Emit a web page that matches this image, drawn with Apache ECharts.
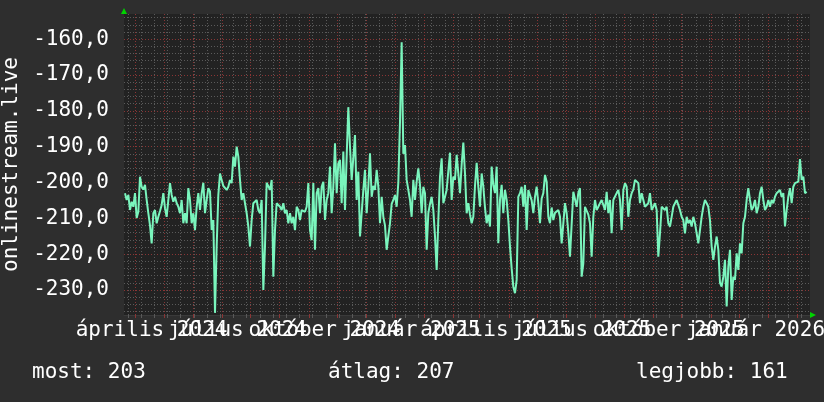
<!DOCTYPE html>
<html><head><meta charset="utf-8">
<script src="https://cdn.jsdelivr.net/npm/echarts@6/dist/echarts.min.js"></script>
<style>html,body{margin:0;padding:0;background:#2e2e2e}#c{width:824px;height:402px}</style>
</head><body><div id="c"></div>
<script>
// ---- data ----
const xStart = '2024-02-18';
const xEnd = '2026-02-14';
const firstSampleHours = 25.4;
const sampleStepHours = 42.39;
const values = [
-203.0,-204.9,-203.5,-207.7,-205.4,-206.8,-203.0,-209.9,-208.2,-198.4,
-201.2,-202.0,-200.7,-204.9,-208.6,-212.0,-217.0,-208.6,-207.7,-211.4,
-209.6,-208.0,-206.3,-203.0,-207.2,-209.6,-204.9,-200.2,-203.5,-205.4,
-204.0,-205.8,-206.8,-208.6,-204.9,-211.4,-208.6,-211.4,-201.6,-204.9,
-211.4,-208.6,-213.3,-206.8,-203.0,-207.7,-203.0,-200.1,-208.6,-204.9,
-201.6,-202.5,-213.3,-210.5,-236.4,-217.9,-203.5,-197.5,-199.3,-201.0,
-200.5,-202.1,-201.2,-199.3,-200.2,-192.8,-195.6,-190.0,-192.8,-199.3,
-204.9,-203.0,-205.8,-208.6,-212.3,-217.9,-210.5,-205.8,-205.4,-204.9,
-207.7,-208.6,-204.9,-230.0,-217.9,-200.1,-200.2,-202.1,-199.3,-226.3,
-213.3,-205.8,-206.3,-206.8,-207.7,-205.8,-208.6,-207.7,-211.4,-208.6,
-211.4,-209.6,-213.3,-206.8,-207.7,-210.5,-207.7,-208.0,-208.2,-206.8,
-200.2,-213.3,-216.1,-200.2,-218.8,-203.0,-201.6,-208.6,-201.2,-199.8,
-210.5,-204.9,-203.0,-195.6,-208.6,-201.2,-189.1,-203.0,-194.7,-193.7,
-205.8,-191.4,-207.7,-192.8,-179.0,-190.0,-199.3,-199.0,-186.8,-204.9,
-197.0,-215.1,-208.6,-202.1,-196.5,-208.6,-201.2,-191.9,-204.0,-201.0,
-202.1,-196.5,-201.2,-211.4,-204.0,-209.6,-212.0,-218.8,-215.0,-211.4,
-206.0,-204.9,-203.5,-206.8,-200.0,-183.1,-160.9,-192.0,-189.6,-199.3,
-199.5,-204.9,-209.6,-199.3,-204.9,-199.8,-196.1,-200.7,-208.6,-201.2,
-203.0,-218.8,-208.6,-206.0,-204.0,-207.7,-215.0,-224.4,-210.5,-198.4,
-193.3,-205.8,-204.0,-202.1,-201.6,-191.7,-204.9,-198.4,-199.3,-192.3,
-197.5,-203.0,-195.0,-188.9,-197.5,-208.6,-205.8,-209.0,-211.4,-209.6,
-201.0,-194.5,-201.2,-206.8,-197.5,-201.2,-207.0,-211.4,-209.0,-212.3,
-195.6,-200.7,-203.0,-195.6,-217.0,-204.9,-200.7,-208.6,-202.1,-204.9,
-210.5,-217.9,-224.0,-229.1,-230.9,-227.2,-204.0,-203.0,-201.2,-206.8,
-200.7,-213.3,-202.1,-202.1,-205.0,-208.6,-204.0,-201.2,-205.8,-211.4,
-204.5,-203.0,-197.9,-199.8,-209.6,-211.4,-207.0,-210.5,-208.5,-208.6,
-207.7,-209.6,-217.0,-211.4,-205.8,-208.6,-214.0,-220.7,-220.7,-202.6,
-203.0,-206.8,-203.0,-201.6,-226.3,-222.6,-206.8,-206.8,-209.0,-211.4,
-220.7,-209.6,-204.9,-207.7,-206.8,-205.8,-204.9,-204.9,-207.7,-202.6,
-208.6,-204.9,-214.2,-204.9,-204.9,-203.0,-202.1,-204.9,-213.3,-202.1,
-200.2,-201.2,-209.6,-204.9,-203.0,-202.0,-199.3,-199.3,-200.2,-205.8,
-203.0,-204.9,-206.8,-206.8,-205.8,-203.0,-207.7,-206.8,-205.8,-207.7,
-220.7,-214.2,-206.8,-206.8,-207.7,-206.8,-211.4,-212.3,-209.6,-206.8,
-205.8,-204.9,-204.9,-207.7,-209.6,-210.5,-214.2,-209.6,-211.4,-210.5,
-212.3,-209.6,-211.4,-211.4,-217.0,-213.3,-209.6,-206.8,-204.9,-205.8,
-206.8,-210.5,-217.9,-221.6,-217.9,-215.1,-218.8,-228.0,-229.1,-226.3,
-221.6,-234.6,-223.5,-218.8,-232.8,-226.3,-227.2,-219.8,-224.4,-217.0,
-219.8,-211.4,-209.6,-204.9,-201.6,-204.9,-207.7,-206.8,-204.9,-208.6,
-206.8,-203.0,-201.2,-204.9,-207.7,-206.8,-204.9,-206.8,-204.9,-205.8,
-204.0,-203.0,-203.0,-202.1,-204.0,-203.0,-212.3,-207.7,-204.0,-201.6,
-205.8,-201.2,-200.2,-200.2,-199.8,-193.5,-199.3,-198.4,-203.0,-202.6
];
const quarterLabelDates = ['2024-04-01','2024-07-01','2024-10-01','2025-01-01','2025-04-01','2025-07-01','2025-10-01','2026-01-01'];
const quarterLabels = ['április 2024','július 2024','október 2024','január 2025','április 2025','július 2025','október 2025','január 2026'];
const yMin = -237, yMax = -153;
const yMajorTicks = [-230,-220,-210,-200,-190,-180,-170,-160];
const seriesName = 'onlinestream.live';
const statLabels = ['most:', 'átlag:', 'legjobb:'];
const statValues = [203, 207, 161];

// ---- build ----
const DAY = 86400000, HOUR = 3600000;
const t0 = Date.parse(xStart), t1 = Date.parse(xEnd);
const seriesData = values.map((v, i) => [t0 + (firstSampleHours + i * sampleStepHours) * HOUR, v]);
const labelTimes = quarterLabelDates.map(d => Date.parse(d));
const labelTimesEven = labelTimes.filter((t, i) => i % 2 === 0);
const labelTimesOdd = labelTimes.filter((t, i) => i % 2 === 1);
const monthTicks = [];
for (let i = 0; i < 30; i++) { const t = Date.UTC(2024, 2 + i, 1); if (t > t0 && t < t1) monthTicks.push(t); }
const biweekTicks = [];
for (let t = Date.UTC(2024, 1, 22); t < t1; t += 14 * DAY) biweekTicks.push(t);
const yMinor = [];
for (let v = -236; v <= -154; v += 2) if (v % 10 !== 0) yMinor.push(v);

const FONT = '"DejaVu Sans Mono", monospace';
const minorLine = { color: '#5a5a5a', width: 1, type: [1, 2] };
const majorLine = { color: '#8a3535', width: 1, type: [1, 2] };
const arrowColor = '#00d400';
const labelFmt = (v) => { const i = labelTimes.indexOf(+v); return i >= 0 ? quarterLabels[i] : ''; };
const xLabelStyle = (vals) => ({ show: true, customValues: vals, color: '#ffffff', fontFamily: FONT, fontSize: 21, margin: 5,
  padding: [0, 26, 0, 0], showMinLabel: true, showMaxLabel: true, hideOverlap: false, formatter: labelFmt });

const chart = echarts.init(document.getElementById('c'), null, { renderer: 'canvas' });
chart.setOption({
  backgroundColor: '#2e2e2e',
  animation: false,
  grid: { left: 124, right: 14, top: 14, bottom: 87, show: true, backgroundColor: '#222222', borderWidth: 0,
          containLabel: false, outerBoundsMode: 'none' },
  xAxis: [
    { type: 'value', min: t0, max: t1, position: 'bottom', scale: true,
      axisLine: { show: true, lineStyle: { color: '#3a3a3a', width: 1 } },
      axisTick: { show: true, length: 3, customValues: biweekTicks, lineStyle: { color: '#5a5a5a' } },
      axisLabel: { show: false }, splitLine: { show: true, lineStyle: minorLine } },
    { type: 'value', min: t0, max: t1, position: 'bottom', scale: true,
      axisLine: { show: true, symbol: ['none', 'triangle'], symbolSize: [6, 6], symbolOffset: [0, 3], lineStyle: { color: arrowColor, width: 0 } },
      axisTick: { show: true, length: 3, customValues: monthTicks, lineStyle: { color: '#8a3535' } },
      axisLabel: xLabelStyle(labelTimesEven),
      splitLine: { show: true, lineStyle: majorLine } },
    { type: 'value', min: t0, max: t1, position: 'bottom', scale: true,
      axisLine: { show: false }, axisTick: { show: false, customValues: labelTimesOdd },
      axisLabel: xLabelStyle(labelTimesOdd), splitLine: { show: false } }
  ],
  yAxis: [
    { type: 'value', min: yMin, max: yMax, position: 'left',
      axisLine: { show: false }, axisTick: { show: false, customValues: yMinor },
      axisLabel: { show: false }, splitLine: { show: true, lineStyle: minorLine } },
    { type: 'value', min: yMin, max: yMax, position: 'left',
      name: seriesName, nameLocation: 'middle', nameRotate: 90, nameGap: 97,
      nameTextStyle: { color: '#ffffff', fontFamily: FONT, fontSize: 21 },
      axisLine: { show: true, symbol: ['none', 'triangle'], symbolSize: [6, 6], symbolOffset: [0, 3], lineStyle: { color: arrowColor, width: 0 } },
      axisTick: { show: false, customValues: yMajorTicks },
      axisLabel: { show: true, customValues: yMajorTicks, color: '#ffffff', fontFamily: FONT, fontSize: 21, margin: 15,
        showMinLabel: true, showMaxLabel: true,
        formatter: (v) => v.toFixed(1).replace('.', ',') },
      splitLine: { show: true, lineStyle: majorLine } }
  ],
  graphic: statLabels.map((l, i) => ({
    type: 'text', x: [32, 328, 636][i], y: 373,
    style: { text: l + ' ' + statValues[i], fill: '#ffffff', font: '21px ' + FONT, verticalAlign: 'middle' }
  })),
  series: [{
    type: 'line', name: seriesName, xAxisIndex: 1, yAxisIndex: 1, data: seriesData,
    showSymbol: false, symbol: 'none', lineStyle: { color: '#7af5bd', width: 2 }, z: 5
  }]
});
</script></body></html>
